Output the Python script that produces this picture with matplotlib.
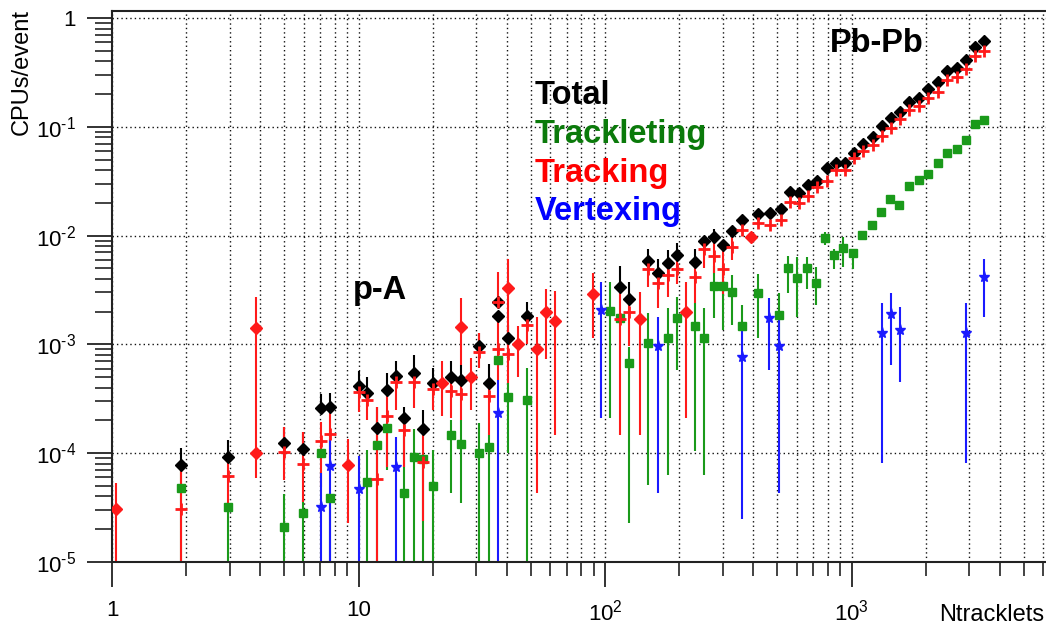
import matplotlib
matplotlib.use("Agg")
import matplotlib.pyplot as plt
import numpy as np
from matplotlib.ticker import FixedLocator, FixedFormatter, LogLocator, NullFormatter

plt.rcParams["font.family"] = ["Liberation Sans", "DejaVu Sans"]
plt.rcParams["mathtext.fontset"] = "custom"
plt.rcParams["mathtext.rm"] = "Liberation Sans"

# --- Data ----------------------------------------------------------------------
# lo / hi are the ends of each error bar; 0 means the bar runs off the bottom

total_x = [1.90, 2.95, 5.0, 5.95, 7.05, 7.68, 10.0, 10.8, 11.9, 13.0, 14.2, 15.3, 16.8,
           18.3, 20.0, 23.8, 26.0, 30.8, 33.8, 36.8, 36.8, 40.5, 48.3, 115, 125, 149,
           164, 180, 196, 232, 253, 276, 300, 327, 358, 419, 467, 517, 563, 612, 666,
           724, 796, 865, 941, 1023, 1113, 1222, 1330, 1446, 1573, 1712, 1878, 2043,
           2243, 2440, 2677, 2913, 3170, 3460]
total_y = [7.8e-5, 9.2e-5, 1.24e-4, 1.09e-4, 2.6e-4, 2.66e-4, 4.15e-4, 3.57e-4, 1.7e-4,
           3.8e-4, 5.1e-4, 2.1e-4, 5.5e-4, 1.67e-4, 4.4e-4, 5.0e-4, 4.7e-4, 9.7e-4,
           4.4e-4, 2.45e-3, 1.82e-3, 1.15e-3, 1.82e-3, 3.37e-3, 2.61e-3, 5.84e-3,
           4.5e-3, 5.6e-3, 6.6e-3, 5.7e-3, 8.9e-3, 9.7e-3, 8.2e-3, 1.1e-2, 1.39e-2,
           1.58e-2, 1.62e-2, 1.76e-2, 2.5e-2, 2.45e-2, 2.92e-2, 3.2e-2, 4.15e-2,
           4.68e-2, 4.68e-2, 5.78e-2, 6.9e-2, 8.1e-2, 0.1016, 0.12, 0.138, 0.170,
           0.185, 0.221, 0.256, 0.328, 0.35, 0.411, 0.545, 0.615]
total_hi = [1.12e-4, 1.32e-4, 1.74e-4, 1.57e-4, 3.5e-4, 3.57e-4, 5.7e-4, 5.0e-4, 2.66e-4,
            5.5e-4, 7.0e-4, 2.66e-4, 8.0e-4, 2.5e-4, 6.1e-4, 7.0e-4, 6.5e-4, 1.27e-3,
            6.6e-4, 2.45e-3, 1.82e-3, 1.51e-3, 2.45e-3, 5.3e-3, 3.75e-3, 7.5e-3,
            6.1e-3, 7.4e-3, 8.5e-3, 7.5e-3, 8.9e-3, 1.15e-2, 8.2e-3, 1.1e-2, 1.39e-2,
            1.58e-2, 1.62e-2, 1.76e-2, 2.5e-2, 2.45e-2, 2.92e-2, 3.2e-2, 4.15e-2,
            4.68e-2, 4.68e-2, 5.78e-2, 6.9e-2, 8.1e-2, 0.1016, 0.12, 0.138, 0.170,
            0.185, 0.221, 0.256, 0.328, 0.35, 0.411, 0.545, 0.615]

track_x = [1.90, 2.95, 5.0, 5.95, 7.05, 7.68, 10.0, 10.8, 11.9, 13.0, 14.2, 15.3, 16.8,
           18.3, 20.0, 23.8, 26.0, 30.8, 33.8, 36.8, 36.8, 40.5, 48.3, 115, 125, 149,
           164, 180, 196, 232, 253, 276, 300, 327, 358, 419, 467, 517, 563, 612, 666,
           724, 796, 865, 941, 1023, 1113, 1222, 1330, 1446, 1573, 1712, 1878, 2043,
           2243, 2440, 2677, 2913, 3170, 3460]
track_y = [3.1e-5, 6.2e-5, 1.03e-4, 7.96e-5, 1.29e-4, 1.5e-4, 3.65e-4, 3.08e-4, 5.8e-5,
           2.2e-4, 4.5e-4, 1.63e-4, 4.5e-4, 8.3e-5, 3.9e-4, 3.7e-4, 3.5e-4, 8.5e-4,
           3.36e-4, 2.45e-3, 9.1e-4, 8.2e-4, 1.51e-3, 1.71e-3, 1.99e-3, 4.93e-3,
           3.67e-3, 4.34e-3, 4.93e-3, 4.16e-3, 7.5e-3, 6.5e-3, 4.93e-3, 7.85e-3,
           1.13e-2, 1.31e-2, 1.24e-2, 1.40e-2, 2.02e-2, 2.0e-2, 2.33e-2, 2.82e-2,
           3.2e-2, 4.0e-2, 4.0e-2, 5.13e-2, 6.03e-2, 6.8e-2, 8.2e-2, 9.7e-2, 0.117,
           0.143, 0.155, 0.185, 0.21, 0.269, 0.289, 0.337, 0.448, 0.50]
track_lo = [0, 3.1e-5, 5.7e-5, 3.56e-5, 4.9e-5, 8.7e-5, 2.4e-4, 2.02e-4, 0, 7.5e-5,
            2.5e-4, 7.5e-5, 2.6e-4, 2.4e-5, 2.5e-4, 2.1e-4, 2.0e-4, 6.1e-4, 1.47e-4,
            2.45e-3, 4.7e-4, 8.2e-4, 1.0e-3, 1.47e-4, 9.6e-4, 3.37e-3, 2.16e-3, 2.7e-3,
            3.6e-3, 2.4e-3, 5.0e-3, 4.5e-3, 2.9e-3, 6.0e-3, 1.13e-2, 1.31e-2, 1.24e-2,
            1.40e-2, 2.02e-2, 2.0e-2, 2.33e-2, 2.82e-2, 3.2e-2, 4.0e-2, 4.0e-2, 5.13e-2,
            6.03e-2, 6.8e-2, 8.2e-2, 9.7e-2, 0.117, 0.143, 0.155, 0.185, 0.21, 0.269,
            0.289, 0.337, 0.448, 0.50]
track_hi = [7.8e-5, 9.2e-5, 1.74e-4, 1.57e-4, 1.94e-4, 2.34e-4, 4.15e-4, 3.57e-4,
            2.66e-4, 3.97e-4, 5.1e-4, 2.1e-4, 5.5e-4, 1.47e-4, 4.4e-4, 5.0e-4, 4.7e-4,
            1.27e-3, 4.4e-4, 4.6e-3, 1.82e-3, 8.2e-4, 1.82e-3, 3.37e-3, 2.61e-3,
            5.84e-3, 4.5e-3, 5.6e-3, 6.6e-3, 5.7e-3, 8.9e-3, 9.7e-3, 8.2e-3, 1.1e-2,
            1.13e-2, 1.31e-2, 1.24e-2, 1.40e-2, 2.02e-2, 2.0e-2, 2.33e-2, 2.82e-2,
            3.2e-2, 4.0e-2, 4.0e-2, 5.13e-2, 6.03e-2, 6.8e-2, 8.2e-2, 9.7e-2, 0.117,
            0.143, 0.155, 0.185, 0.21, 0.269, 0.289, 0.337, 0.448, 0.50]

# tracking points drawn as red diamonds (total hidden underneath)
trackd_x = [1.04, 3.84, 3.84, 9.05, 21.9, 26.0, 28.6, 40.5, 44.4, 53.0, 57.7, 62.8,
            89, 138, 213, 391]
trackd_y = [3.07e-5, 1.42e-3, 1.0e-4, 7.8e-5, 4.4e-4, 1.45e-3, 5.0e-4, 3.3e-3, 1.0e-3,
            9.1e-4, 2.0e-3, 1.64e-3, 2.9e-3, 1.7e-3, 2.0e-3, 9.7e-3]
trackd_lo = [0, 5.9e-5, 1.0e-4, 2.3e-5, 2.2e-4, 6.5e-4, 2.5e-4, 4.4e-4, 5.0e-4, 4.3e-5,
             7.3e-4, 1.47e-4, 1.15e-3, 1.47e-4, 2.1e-4, 9.7e-3]
trackd_hi = [5.3e-5, 2.73e-3, 1.0e-4, 1.35e-4, 7.0e-4, 2.67e-3, 7.5e-4, 6.1e-3, 1.48e-3,
             1.79e-3, 3.2e-3, 3.1e-3, 4.5e-3, 3.0e-3, 3.75e-3, 9.7e-3]

tlet_x = [1.90, 2.95, 5.0, 5.95, 7.05, 7.68, 10.8, 11.9, 13.0, 15.3, 16.8, 18.3, 20.0,
          23.8, 26.0, 30.8, 33.8, 36.8, 40.5, 48.3, 105, 115, 125, 149, 180, 196, 232,
          253, 276, 300, 327, 358, 419, 506, 550, 602, 660, 718, 781, 849, 924, 1014,
          1103, 1212, 1319, 1434, 1560, 1712, 1878, 2043, 2243, 2440, 2677, 2913,
          3170, 3440]
tlet_y = [4.8e-5, 3.2e-5, 2.1e-5, 2.82e-5, 1.0e-4, 3.9e-5, 5.4e-5, 1.19e-4, 1.7e-4,
          4.3e-5, 9.2e-5, 8.9e-5, 5.0e-5, 1.47e-4, 1.22e-4, 1.0e-4, 1.14e-4, 7.2e-4,
          3.3e-4, 3.1e-4, 2.03e-3, 1.75e-3, 6.7e-4, 1.03e-3, 1.15e-3, 1.75e-3, 1.48e-3,
          1.15e-3, 3.44e-3, 3.44e-3, 3.03e-3, 1.48e-3, 2.97e-3, 1.86e-3, 5.04e-3,
          4.1e-3, 5.04e-3, 3.7e-3, 9.5e-3, 6.6e-3, 7.7e-3, 6.9e-3, 1.01e-2, 1.25e-2,
          1.65e-2, 2.17e-2, 1.91e-2, 2.86e-2, 3.24e-2, 3.68e-2, 4.65e-2, 5.74e-2,
          6.25e-2, 7.56e-2, 0.106, 0.115]
tlet_lo = [0, 0, 0, 0, 1.0e-4, 0, 0, 0, 7.0e-5, 0, 0, 0, 0, 4.3e-5, 3.5e-5, 0, 0,
           7.2e-4, 1.0e-4, 0, 2.1e-4, 1.75e-3, 2.3e-5, 5.1e-5, 6.3e-5, 5.8e-4, 1.05e-4,
           6.3e-5, 1.75e-3, 1.36e-3, 1.51e-3, 1.48e-3, 1.15e-3, 9.6e-4, 2.97e-3,
           1.79e-3, 3.2e-3, 2.3e-3, 8.2e-3, 4.9e-3, 5.1e-3, 4.9e-3, 1.01e-2, 1.25e-2,
           1.65e-2, 2.17e-2, 1.91e-2, 2.86e-2, 3.24e-2, 3.68e-2, 4.65e-2, 5.74e-2,
           6.25e-2, 7.56e-2, 0.106, 0.115]
tlet_hi = [7.8e-5, 3.2e-5, 4.2e-5, 3.7e-5, 1.0e-4, 3.9e-5, 1.07e-4, 2.0e-4, 1.9e-4,
           1.47e-4, 1.67e-4, 8.9e-5, 1.07e-4, 2.0e-4, 2.0e-4, 1.9e-4, 1.47e-4, 7.2e-4,
           4.4e-4, 6.1e-4, 3.75e-3, 1.75e-3, 9.5e-4, 1.94e-3, 2.16e-3, 2.73e-3, 2.4e-3,
           2.16e-3, 5.26e-3, 5.26e-3, 4.34e-3, 2.3e-3, 4.44e-3, 2.97e-3, 6.5e-3,
           6.3e-3, 6.3e-3, 5.1e-3, 1.08e-2, 7.6e-3, 9.7e-3, 7.6e-3, 1.01e-2, 1.25e-2,
           1.65e-2, 2.17e-2, 1.91e-2, 2.86e-2, 3.24e-2, 3.68e-2, 4.65e-2, 5.74e-2,
           6.25e-2, 7.56e-2, 0.106, 0.115]

vtx_x = [7.05, 7.68, 10.0, 14.2, 36.8, 96.3, 164, 358, 463, 506, 1330, 1446, 1573,
         2913, 3460]
vtx_y = [3.2e-5, 7.6e-5, 4.7e-5, 7.5e-5, 2.34e-4, 2.07e-3, 9.7e-4, 7.66e-4, 1.75e-3,
         9.7e-4, 1.27e-3, 1.9e-3, 1.36e-3, 1.27e-3, 4.2e-3]
vtx_lo = [0, 0, 0, 0, 0, 2.1e-4, 4.3e-5, 2.5e-5, 5.8e-4, 4.3e-5, 8.1e-5, 6.5e-4,
          4.5e-4, 8.1e-5, 1.79e-3]
vtx_hi = [6.6e-5, 1.35e-4, 9.4e-5, 1.41e-4, 4.7e-4, 3.75e-3, 1.79e-3, 1.45e-3, 2.67e-3,
          1.79e-3, 2.4e-3, 2.97e-3, 2.2e-3, 2.4e-3, 6.1e-3]

x_ticks = [1, 10, 100, 1000]
x_labels = ["1", "10", r"$\mathdefault{10^{2}}$", r"$\mathdefault{10^{3}}$"]
y_ticks = [1e-5, 1e-4, 1e-3, 1e-2, 1e-1, 1]
y_labels = [r"$\mathdefault{10^{\text{-}5}}$", r"$\mathdefault{10^{\text{-}4}}$",
            r"$\mathdefault{10^{\text{-}3}}$", r"$\mathdefault{10^{\text{-}2}}$",
            r"$\mathdefault{10^{\text{-}1}}$", "1"]

BLACK = "#000000"
GREEN = "#1a9a1a"
RED = "#ff1a1a"
BLUE = "#1a1aff"


def bars(ax, x, y, lo, hi, color):
    y = np.asarray(y, float)
    lo = np.clip(np.asarray(lo, float), 1e-7, None)
    hi = np.asarray(hi, float)
    ax.errorbar(x, y, yerr=[y - lo, hi - y], fmt="none", ecolor=color,
                elinewidth=1.5, capsize=0, zorder=2)


# --- Plot -----------------------------------------------------------------------
fig = plt.figure(figsize=(10.46, 6.27), dpi=100)
ax = fig.add_axes([112 / 1046, 65 / 627, 934 / 1046, 551 / 627])
ax.set_xscale("log")
ax.set_yscale("log")

bars(ax, total_x, total_y, total_y, total_hi, BLACK)
bars(ax, tlet_x, tlet_y, tlet_lo, tlet_hi, GREEN)
bars(ax, track_x, track_y, track_lo, track_hi, RED)
bars(ax, trackd_x, trackd_y, trackd_lo, trackd_hi, RED)
bars(ax, vtx_x, vtx_y, vtx_lo, vtx_hi, BLUE)

ax.plot(total_x, total_y, ls="none", marker="D", ms=6.5, color=BLACK, zorder=3)
ax.plot(tlet_x, tlet_y, ls="none", marker="s", ms=6, color=GREEN, zorder=3)
ax.plot(track_x, track_y, ls="none", marker="+", ms=9, mew=2, color=RED, zorder=4)
ax.plot(trackd_x, trackd_y, ls="none", marker="D", ms=6.5, color=RED, zorder=4)
ax.plot(vtx_x, vtx_y, ls="none", marker="*", ms=8, color=BLUE, zorder=5)

ax.set_xlim(1, 6150)
ax.set_ylim(1e-5, 1.16)

ax.xaxis.set_major_locator(FixedLocator(x_ticks))
ax.xaxis.set_major_formatter(FixedFormatter(x_labels))
ax.xaxis.set_minor_locator(LogLocator(base=10, subs=range(2, 10), numticks=20))
ax.xaxis.set_minor_formatter(NullFormatter())
ax.yaxis.set_major_locator(FixedLocator(y_ticks))
ax.yaxis.set_major_formatter(FixedFormatter(y_labels))
ax.yaxis.set_minor_locator(LogLocator(base=10, subs=range(2, 10), numticks=20))
ax.yaxis.set_minor_formatter(NullFormatter())

ax.tick_params(axis="both", which="major", direction="out", length=18, width=1.3,
               labelsize=16, color="#222222")
ax.tick_params(axis="x", which="major", pad=9)
ax.tick_params(axis="y", which="major", pad=8)
ax.tick_params(axis="x", which="minor", direction="out", length=10, width=1.2,
               color="#222222")
ax.tick_params(axis="y", which="minor", direction="out", length=12, width=1.2,
               color="#222222")

dots = (0, (1, 2.2))
ax.grid(True, which="major", axis="both", ls=dots, color="#111111", lw=1.0)
ax.grid(True, which="minor", axis="x", ls=dots, color="#111111", lw=1.0)
ax.set_axisbelow(True)

for side in ["left", "bottom", "top"]:
    ax.spines[side].set_linewidth(1.5)
    ax.spines[side].set_color("#222222")
ax.spines["right"].set_visible(False)

# labels inside the frame
lab = dict(transform=ax.transAxes, fontsize=23.5, fontweight="bold", va="baseline")
ax.text((535 - 112) / 934, (562 - 104) / 551, "Total", color=BLACK, **lab)
ax.text((535 - 112) / 934, (562 - 143) / 551, "Trackleting", color="#0b7a0b", **lab)
ax.text((535 - 112) / 934, (562 - 182) / 551, "Tracking", color="#ff0000", **lab)
ax.text((535 - 112) / 934, (562 - 220) / 551, "Vertexing", color="#0000ff", **lab)
ax.text((353 - 112) / 934, (562 - 299) / 551, "p-A", color=BLACK, **lab)
ax.text((830 - 112) / 934, (562 - 52) / 551, "Pb-Pb", color=BLACK, **lab)

fig.text(22 / 1046, 1 - 9 / 627, "CPUs/event", rotation=90, ha="center", va="top",
         fontsize=17)
fig.text(1044 / 1046, 1 - 621 / 627, "Ntracklets", ha="right", va="baseline",
         fontsize=17)

fig.savefig("out.png", dpi=100)
plt.close(fig)
